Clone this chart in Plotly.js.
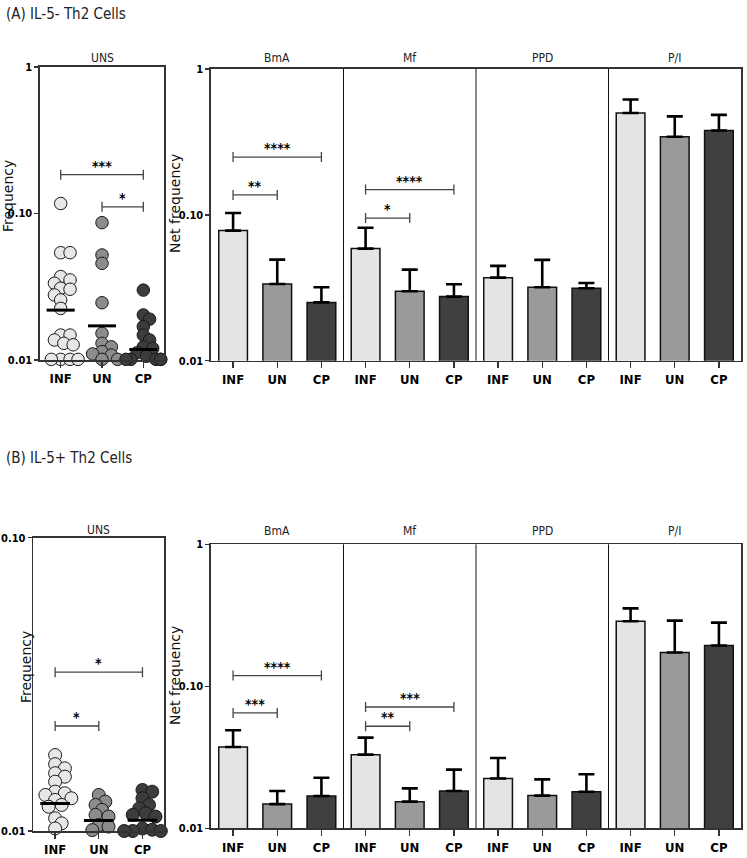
<!DOCTYPE html>
<html>
<head>
<meta charset="utf-8">
<script src="https://cdn.plot.ly/plotly-3.0.1.min.js"></script>
<style>html,body{margin:0;padding:0;background:#fff;}#chart{width:747px;height:858px;}</style>
</head>
<body>
<div id="chart"></div>
<script>
// ---------------- DATA ----------------
const groups = ["INF", "UN", "CP"];
const stimuli = ["BmA", "Mf", "PPD", "P/I"];
const unsLabel = "UNS";

// (A) IL-5- Th2 cells, unstimulated frequencies (individual donors)
const infA_uns = [0.117, 0.054, 0.054, 0.0371, 0.0352, 0.0334, 0.0309, 0.0304, 0.0278, 0.0257, 0.0225, 0.0148, 0.0148, 0.0137, 0.0130, 0.0127, 0.0101, 0.0101, 0.0101, 0.0101];
const unA_uns  = [0.0866, 0.0521, 0.0457, 0.0246, 0.0152, 0.0130, 0.0123, 0.0114, 0.0110, 0.0108, 0.0101, 0.0101];
const cpA_uns  = [0.030, 0.0203, 0.019, 0.0169, 0.0148, 0.0137, 0.0123, 0.0120, 0.0112, 0.0106, 0.0101, 0.0101, 0.0101, 0.0101, 0.0101];
const meanA_uns = [0.0219, 0.0171, 0.0118];

// (A) net frequency, bars per stimulus [BmA, Mf, PPD, P/I]
const infA_net = [0.078, 0.0587, 0.0371, 0.499];
const unA_net  = [0.0336, 0.0299, 0.0319, 0.343];
const cpA_net  = [0.0251, 0.0275, 0.0314, 0.379];
const infA_sem = [0.025, 0.0228, 0.0076, 0.119];
const unA_sem  = [0.0157, 0.0122, 0.0172, 0.130];
const cpA_sem  = [0.0068, 0.0059, 0.0027, 0.106];

// (B) IL-5+ Th2 cells
const infB_uns = [0.01815, 0.0169, 0.01636, 0.01574, 0.01532, 0.01473, 0.01362, 0.01345, 0.01327, 0.01293, 0.01276, 0.01227, 0.0121, 0.01105, 0.01062, 0.0102, 0.0099];
const unB_uns  = [0.01327, 0.01259, 0.01227, 0.0118, 0.01135, 0.0112, 0.01048, 0.01035, 0.01007, 0.0099];
const cpB_uns  = [0.0138, 0.01362, 0.01293, 0.01227, 0.01194, 0.01148, 0.01135, 0.0112, 0.0102, 0.0101, 0.0100, 0.0100, 0.0100, 0.0099];
const meanB_uns = [0.01242, 0.01086, 0.01088];

const infB_net = [0.0374, 0.033, 0.0224, 0.287];
const unB_net  = [0.0148, 0.0154, 0.0170, 0.173];
const cpB_net  = [0.0169, 0.0183, 0.0181, 0.194];
const infB_sem = [0.0116, 0.0105, 0.0089, 0.067];
const unB_sem  = [0.0035, 0.0037, 0.0051, 0.117];
const cpB_sem  = [0.0058, 0.0076, 0.0059, 0.087];

// significance brackets: [fromGroup, toGroup, level, label]
const sigA_uns = [[0, 2, 0.184, "***"], [1, 2, 0.111, "*"]];
const sigA_net = { BmA: [[0, 2, 0.249, "****"], [0, 1, 0.137, "**"]], Mf: [[0, 2, 0.149, "****"], [0, 1, 0.095, "*"]] };
const sigB_uns = [[0, 2, 0.0348, "*"], [0, 1, 0.0228, "*"]];
const sigB_net = { BmA: [[0, 2, 0.119, "****"], [0, 1, 0.0649, "***"]], Mf: [[0, 2, 0.0715, "***"], [0, 1, 0.0523, "**"]] };

const titleA = "(A) IL-5- Th2 Cells";
const titleB = "(B) IL-5+ Th2 Cells";

// ---------------- STYLE ----------------
const W = 747, H = 858;
const dotFill = ["#e6e7e6", "#8c8c8c", "#3c3c3c"];
const barFill = ["#e3e4e3", "#9a9a9a", "#404040"];
const narrow = "DejaVu Sans Condensed, Liberation Sans Narrow, Liberation Sans, sans-serif";
const tickFont = { family: narrow, size: 13, color: "#000", weight: 700 };
const yTickFont = { family: narrow, size: 11, color: "#000", weight: 700 };

// panel rectangles in pixels [left, right, top, bottom]
const boxes = {
  a1: [40, 164, 67, 360],
  a2: [211, 741, 69, 360.7],
  b1: [33.3, 164.3, 537.7, 831],
  b2: [211, 741, 544.3, 828.3]
};
const dom = (b) => ({ x: [b[0] / W, b[1] / W], y: [1 - b[3] / H, 1 - b[2] / H] });

function swarm(vals, pxPerCat, pxPerDec, d) {
  const idx = vals.map((v, i) => i).sort((a, b) => vals[b] - vals[a]);
  const placed = [];
  const off = new Array(vals.length).fill(0);
  for (const i of idx) {
    const y = Math.log10(vals[i]) * pxPerDec;
    let best = 0;
    for (let k = 0; k < 60; k++) {
      const cand = k === 0 ? 0 : (k % 2 ? 1 : -1) * Math.ceil(k / 2) * d * 0.25;
      if (placed.every(p => Math.hypot(p.x - cand, p.y - y) >= d * 0.6)) { best = cand; break; }
    }
    placed.push({ x: best, y: y });
    off[i] = Math.max(-0.42, Math.min(0.42, best / pxPerCat));
  }
  return off;
}

const traces = [];
const shapes = [];
const annotations = [];

function addStrip(sets, means, ax, box, decades, d) {
  const pxPerCat = (box[1] - box[0]) / 3;
  const pxPerDec = (box[3] - box[2]) / decades;
  sets.forEach((vals, g) => {
    const off = swarm(vals, pxPerCat, pxPerDec, d);
    traces.push({
      type: "scatter", mode: "markers", xaxis: "x" + ax, yaxis: "y" + ax,
      x: vals.map((v, i) => g + off[i]), y: vals, cliponaxis: false, showlegend: false,
      marker: { size: d, color: dotFill[g], line: { color: "#1a1a1a", width: 1 } },
      hoverinfo: "y"
    });
  });
  means.forEach((m, g) => {
    traces.push({
      type: "scatter", mode: "lines", xaxis: "x" + ax, yaxis: "y" + ax,
      x: [g - 0.34, g + 0.34], y: [m, m], cliponaxis: false, showlegend: false,
      line: { color: "#000", width: 3 }, hoverinfo: "skip"
    });
  });
}

function addBars(netSets, semSets, ax) {
  netSets.forEach((vals, g) => {
    traces.push({
      type: "bar", xaxis: "x" + ax, yaxis: "y" + ax, showlegend: false,
      x: stimuli.map((s, i) => i * 3 + g), y: vals, width: 0.65,
      marker: { color: barFill[g], line: { color: "#111", width: 1.5 } },
      error_y: { type: "data", symmetric: false, array: semSets[g], arrayminus: semSets[g].map(() => 0),
        color: "#000", thickness: 2.6, width: 8 }
    });
  });
  for (let i = 1; i < stimuli.length; i++) {
    shapes.push({ type: "line", xref: "x" + ax, yref: "y" + ax + " domain", x0: i * 3 - 0.5, x1: i * 3 - 0.5, y0: 0, y1: 1,
      line: { color: "#111", width: 1 } });
  }
}

function addSig(list, ax, box, decades, xBase) {
  const pxPerDec = (box[3] - box[2]) / decades;
  const f = Math.pow(10, 5 / pxPerDec);
  list.forEach(([a, b, lvl, lab]) => {
    const x0 = xBase + a, x1 = xBase + b;
    traces.push({
      type: "scatter", mode: "lines", xaxis: "x" + ax, yaxis: "y" + ax, showlegend: false, hoverinfo: "skip",
      x: [x0, x0, null, x0, x1, null, x1, x1], y: [lvl / f, lvl * f, null, lvl, lvl, null, lvl / f, lvl * f],
      line: { color: "#444", width: 1.3 }
    });
    annotations.push({ xref: "x" + ax, yref: "y" + ax, x: (x0 + x1) / 2, y: Math.log10(lvl), text: lab, showarrow: false,
      yanchor: "bottom", yshift: -1, font: { family: narrow, size: 14, color: "#000", weight: 700 } });
  });
}

addStrip([infA_uns, unA_uns, cpA_uns], meanA_uns, "", boxes.a1, 2, 12.5);
addBars([infA_net, unA_net, cpA_net], [infA_sem, unA_sem, cpA_sem], "2");
addStrip([infB_uns, unB_uns, cpB_uns], meanB_uns, "3", boxes.b1, 1, 13);
addBars([infB_net, unB_net, cpB_net], [infB_sem, unB_sem, cpB_sem], "4");

addSig(sigA_uns, "", boxes.a1, 2, 0);
addSig(sigA_net.BmA, "2", boxes.a2, 2, 0);
addSig(sigA_net.Mf, "2", boxes.a2, 2, 3);
addSig(sigB_uns, "3", boxes.b1, 1, 0);
addSig(sigB_net.BmA, "4", boxes.b2, 2, 0);
addSig(sigB_net.Mf, "4", boxes.b2, 2, 3);

// panel header labels
function header(text, xPx, yPx) {
  annotations.push({ xref: "paper", yref: "paper", x: xPx / W, y: 1 - yPx / H, text: text, showarrow: false,
    xanchor: "center", yanchor: "middle", font: { family: narrow, size: 12, color: "#222" } });
}
[["a1", 58], ["b1", 530]].forEach(([k, y]) => header(unsLabel, (boxes[k][0] + boxes[k][1]) / 2, y));
[["a2", 58], ["b2", 531]].forEach(([k, y]) => {
  const b = boxes[k], pw = (b[1] - b[0]) / stimuli.length;
  stimuli.forEach((s, i) => header(s, b[0] + pw * (i + 0.5), y));
});

// section titles
[[titleA, 14], [titleB, 458]].forEach(([t, y]) => annotations.push({ xref: "paper", yref: "paper", x: 4 / W, y: 1 - y / H,
  text: t, showarrow: false, xanchor: "left", yanchor: "middle", font: { family: narrow, size: 15, color: "#222" } }));

// y-axis titles
function ytitle(text, xPx, yPx) {
  annotations.push({ xref: "paper", yref: "paper", x: xPx / W, y: 1 - yPx / H, text: text, showarrow: false, textangle: -90,
    xanchor: "center", yanchor: "middle", font: { family: "DejaVu Sans, Verdana, sans-serif", size: 14, color: "#111" } });
}
ytitle("Frequency", 8, 196);
ytitle("Net frequency", 175, 204);
ytitle("Frequency", 26, 667);
ytitle("Net frequency", 175, 676);

// axes
function xAx(b, n, labels) {
  const d = dom(b);
  return { domain: d.x, range: [-0.5, n - 0.5], tickvals: labels.map((l, i) => i), ticktext: labels, ticks: "outside",
    ticklen: 6, tickwidth: 1.3, tickcolor: "#333", showline: true, linecolor: "#333", linewidth: 1.6, mirror: true,
    showgrid: false, zeroline: false, tickfont: tickFont, fixedrange: true };
}
function yAx(b, range, tv, tt) {
  const d = dom(b);
  return { domain: d.y, type: "log", range: range, tickvals: tv, ticktext: tt, ticks: "outside", ticklen: 4, tickwidth: 1.3,
    tickcolor: "#333", showline: true, linecolor: "#333", linewidth: 1.6, mirror: true, showgrid: false, zeroline: false,
    tickfont: yTickFont, fixedrange: true, ticklabelstandoff: 0 };
}
const barLabels = [];
stimuli.forEach(() => groups.forEach(g => barLabels.push(g)));

const layout = {
  width: W, height: H, margin: { l: 0, r: 0, t: 0, b: 0 }, paper_bgcolor: "#fff", plot_bgcolor: "#fff",
  showlegend: false, barmode: "overlay",
  xaxis: Object.assign(xAx(boxes.a1, 3, groups), { anchor: "y" }),
  yaxis: Object.assign(yAx(boxes.a1, [-2, 0], [0.01, 0.1, 1], ["0.01", "0.10", "1"]), { anchor: "x" }),
  xaxis2: Object.assign(xAx(boxes.a2, 12, barLabels), { anchor: "y2" }),
  yaxis2: Object.assign(yAx(boxes.a2, [-2, 0], [0.01, 0.1, 1], ["0.01", "0.10", "1"]), { anchor: "x2" }),
  xaxis3: Object.assign(xAx(boxes.b1, 3, groups), { anchor: "y3" }),
  yaxis3: Object.assign(yAx(boxes.b1, [-2, -1], [0.01, 0.1], ["0.01", "0.10"]), { anchor: "x3" }),
  xaxis4: Object.assign(xAx(boxes.b2, 12, barLabels), { anchor: "y4" }),
  yaxis4: Object.assign(yAx(boxes.b2, [-2, 0], [0.01, 0.1, 1], ["0.01", "0.10", "1"]), { anchor: "x4" }),
  shapes: shapes, annotations: annotations
};

Plotly.newPlot("chart", traces, layout, { displayModeBar: false, staticPlot: true });
</script>
</body>
</html>
